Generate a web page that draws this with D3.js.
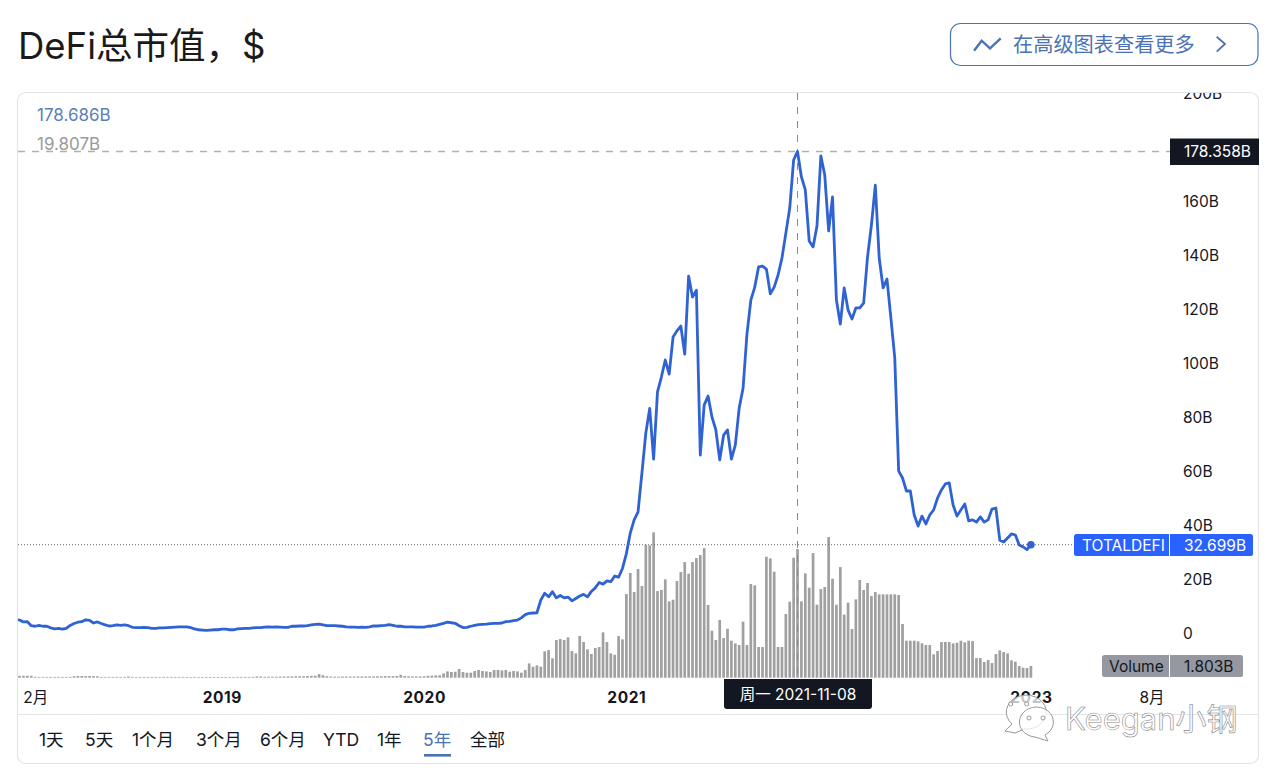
<!DOCTYPE html>
<html>
<head>
<meta charset="utf-8">
<style>
    html, body { margin: 0; background: #fff; }
    svg { display: block; }
    text { font-family: Inter, "Noto Sans CJK SC", sans-serif; fill: #131722; }
    .axis path, .axis line { display: none; }
    .axis text { font-size: 15.5px; }
</style>
<script src="https://cdn.jsdelivr.net/npm/d3@7"></script>
</head>
<body>
<svg id="chart" width="1280" height="779"></svg>
<script>
(function(){
    'use strict';

    // weekly closes, billions, one value per monday from 2018-01-01
    var closes = [
        5.0,4.8,4.1,4.2,2.7,2.5,2.8,2.5,2.5,1.9,
        1.5,1.7,1.4,1.7,2.8,3.5,4.0,4.2,4.9,4.7,
        3.7,4.1,3.5,3.0,2.6,2.7,3.0,2.8,3.0,2.7,
        2.1,2.0,2.0,2.1,2.0,1.7,1.7,1.9,1.9,2.0,
        2.1,2.2,2.3,2.3,2.3,2.0,1.5,1.2,1.1,1.0,
        1.1,1.2,1.2,1.4,1.4,1.2,1.2,1.5,1.6,1.7,
        1.7,1.9,2.0,2.0,2.2,2.3,2.2,2.3,2.2,2.1,
        2.1,2.5,2.5,2.6,2.6,2.7,3.0,3.2,3.3,3.0,
        2.7,2.7,2.7,2.6,2.5,2.3,2.2,2.2,2.1,2.2,
        2.1,2.3,2.6,2.6,2.7,2.8,3.1,2.8,2.5,2.5,
        2.3,2.3,2.3,2.2,2.2,2.2,2.5,2.6,2.8,3.2,
        3.6,4.0,3.8,3.6,2.7,2.0,2.1,2.5,2.8,3.1,
        3.2,3.3,3.5,3.6,3.6,3.7,4.2,4.3,4.6,4.8,
        5.6,6.8,7.3,7.4,7.5,12.2,14.7,13.4,15.3,13.0,
        13.9,13.0,13.3,11.9,12.8,13.7,14.3,13.4,15.4,16.7,
        18.7,18.1,19.3,19.0,21.1,20.7,23.9,29.4,37.0,41.9,
        44.9,59.3,74.1,83.2,64.4,89.3,94.8,101.1,95.9,109.6,
        111.9,113.7,103.3,132.2,124.4,127.0,65.9,84.4,87.8,80.0,
        75.2,64.1,73.3,75.2,64.4,69.6,83.3,90.7,110.7,123.3,
        128.1,135.6,135.9,134.8,125.6,128.1,132.6,138.9,148.1,157.4,
        175.2,178.358,168.9,164.1,145.2,143.0,150.7,176.7,169.6,148.9,
        161.5,123.3,114.4,127.8,119.6,116.3,120.4,120.4,122.2,139.3,
        151.1,165.9,138.9,127.8,131.1,116.7,101.9,60.0,57.4,52.6,
        52.6,43.7,39.6,43.3,40.4,43.7,45.6,50.0,53.0,55.2,
        55.6,47.4,43.3,45.6,47.8,41.5,41.9,41.1,43.0,41.1,
        41.9,45.9,46.3,34.4,33.7,35.2,36.7,36.3,32.6,31.9,
        30.9,32.699
    ];

    var volumes = [
        .3,.3,.3,.3,.3,.14,.12,.12,.12,.12,
        .12,.12,.12,.12,.14,.22,.26,.26,.24,.26,
        .24,.22,.12,.12,.12,.12,.12,.12,.12,.18,
        .12,.11,.12,.12,.11,.12,.12,.11,.12,.12,
        .12,.11,.11,.12,.11,.11,.12,.11,.11,.12,
        .11,.11,.12,.11,.12,.12,.11,.12,.12,.12,
        .12,.13,.2,.18,.14,.15,.16,.16,.18,.18,
        .2,.2,.22,.22,.24,.26,.28,.3,.55,.38,
        .22,.18,.16,.16,.18,.18,.18,.18,.2,.2,
        .2,.2,.2,.22,.22,.24,.24,.24,.26,.45,
        .25,.22,.2,.2,.2,.22,.3,.32,.36,.36,
        .66,.97,.88,.92,1.34,.88,.77,.77,1.03,1.19,
        1.03,.97,.88,1.19,1.19,1.12,1.19,.92,1.03,.97,
        .77,1.18,2.21,1.69,1.90,1.69,4.06,4.26,2.98,5.80,
        5.96,5.80,6.21,4.11,3.75,6.42,5.50,4.37,3.65,4.57,
        4.73,6.99,5.50,3.75,3.54,6.42,5.91,12.89,16.13,13.20,
        16.74,14.12,20.49,20.39,22.39,13.35,13.51,15.15,11.76,12.02,
        14.89,16.28,17.82,16.02,17.82,18.44,18.90,19.98,11.20,7.24,
        5.80,8.89,6.11,7.55,5.70,5.29,5.03,8.63,5.03,14.43,
        14.23,4.73,4.73,18.64,18.39,16.33,4.73,4.73,9.81,11.71,
        18.49,19.807,11.76,16.08,13.87,19.21,11.25,13.66,13.97,21.67,
        15.25,11.25,17.05,9.71,11.56,7.50,12.07,15.05,13.51,14.59,
        12.58,13.20,12.84,12.84,12.84,12.84,12.84,12.74,8.27,5.70,
        5.70,5.70,5.60,5.29,5.03,5.03,3.60,4.11,5.50,5.50,
        5.50,5.29,5.39,5.70,5.44,5.70,5.65,3.03,3.03,2.41,
        2.72,2.26,3.65,4.21,3.95,3.75,2.67,2.47,1.80,1.54,
        1.49,1.803
    ];

    var mondays = d3.utcMonday.range(new Date(Date.UTC(2018,0,1)), new Date(Date.UTC(2023,0,3)));
    var data = mondays.map(function(d,i){
        return {date: d, close: closes[i], volume: volumes[i]};
    });

    var blue = '#2f62d2';
    var muted = '#4a72b4';
    var dark = '#131722';
    var svg = d3.select('#chart');

    var x = d3.scaleUtc()
        .domain([new Date(Date.UTC(2018,0,1)), new Date(Date.UTC(2023,0,2))])
        .range([15.7, 1030.9]);
    var y = d3.scaleLinear().domain([0,200]).range([633,93]);
    var yVol = d3.scaleLinear().domain([0,22.39]).range([677.7,532.4]);

    svg.append('text').attr('x',18).attr('y',59)
        .style('font-size','36.5px').style('fill','#1a1a1a')
        .text('DeFi总市值，$');

    // link button on the top right
    svg.append('rect').attr('x',950.5).attr('y',23.5).attr('width',307.5).attr('height',42)
        .attr('rx',10).attr('fill','none').attr('stroke',muted).attr('stroke-width',1.2);
    svg.append('polyline').attr('points','974,50.7 981.7,40.7 990,48.3 1000.7,38.3')
        .attr('fill','none').attr('stroke',muted).attr('stroke-width',2.4);
    svg.append('text').attr('x',1013).attr('y',52)
        .style('font-size','20.2px').style('fill',muted).text('在高级图表查看更多');
    svg.append('polyline').attr('points','1216.7,36.7 1225,44 1216.7,51.7')
        .attr('fill','none').attr('stroke',muted).attr('stroke-width',1.8);

    // card
    svg.append('rect').attr('x',17.5).attr('y',92.5).attr('width',1241).attr('height',671)
        .attr('rx',8).attr('fill','#fff').attr('stroke','#e2e4ea').attr('stroke-width',1.2);
    svg.append('line').attr('x1',18).attr('x2',1258).attr('y1',714.5).attr('y2',714.5)
        .attr('stroke','#e2e4ea');

    svg.append('clipPath').attr('id','plot').append('rect')
        .attr('x',18).attr('y',93).attr('width',1240).attr('height',620);

    var plot = svg.append('g').attr('clip-path','url(#plot)');

    plot.selectAll('.bar').data(data).enter().append('rect')
        .attr('class','bar')
        .attr('x',function(d){ return x(d.date)-1.35; })
        .attr('width',2.7)
        .attr('y',function(d){ return yVol(d.volume); })
        .attr('height',function(d){ return yVol(0)-yVol(d.volume); })
        .attr('fill','#a0a0a0');

    // last price line
    plot.append('line').attr('x1',18).attr('x2',1074)
        .attr('y1',y(32.699)).attr('y2',y(32.699))
        .attr('stroke','#666').attr('stroke-dasharray','1 2');

    // crosshair
    plot.append('line').attr('x1',18).attr('x2',1170)
        .attr('y1',y(178.358)).attr('y2',y(178.358))
        .attr('stroke','#b0b0b0').attr('stroke-width',1.4).attr('stroke-dasharray','7 7');
    plot.append('line').attr('x1',x(mondays[201])).attr('x2',x(mondays[201]))
        .attr('y1',93).attr('y2',678)
        .attr('stroke','#8a8a8a').attr('stroke-dasharray','7 7');

    var line = d3.line()
        .x(function(d){ return x(d.date); })
        .y(function(d){ return y(d.close); });
    plot.append('path').datum(data)
        .attr('d',line)
        .attr('fill','none')
        .attr('stroke',blue)
        .attr('stroke-width',2.8)
        .attr('stroke-linejoin','round');
    plot.append('circle').attr('cx',x(mondays[261])).attr('cy',y(32.699)).attr('r',3.8)
        .attr('fill',blue);

    // 180B sits behind the crosshair tag, so it is left out
    plot.append('g').attr('class','axis')
        .attr('transform','translate(1170,1)')
        .call(d3.axisRight(y).tickValues([0,20,40,60,80,100,120,140,160,200]).tickSize(0).tickPadding(13)
            .tickFormat(function(d){ return d===0 ? '0' : d+'B'; }));

    // the 2022 label is covered by the date label, so it is left out
    var yearTicks = [new Date(Date.UTC(2019,0,7)), new Date(Date.UTC(2020,0,6)),
        new Date(Date.UTC(2021,0,4)), new Date(Date.UTC(2023,0,2))];
    var monthTicks = [new Date(Date.UTC(2018,1,5)), new Date(Date.UTC(2023,7,7))];
    var xAxis = svg.append('g').attr('class','axis')
        .attr('transform','translate(0,693)')
        .call(d3.axisBottom(x).tickValues(monthTicks.concat(yearTicks)).tickSize(0).tickPadding(0)
            .tickFormat(function(d){
                return d.getUTCMonth()===0 ? d.getUTCFullYear() : (d.getUTCMonth()+1)+'月';
            }));
    xAxis.selectAll('text')
        .attr('dy','10')
        .style('font-weight',function(d){ return d.getUTCMonth()===0 ? 700 : 400; })
        .style('letter-spacing',function(d){ return d.getUTCMonth()===0 ? '0.6px' : null; });

    // legend values
    svg.append('text').attr('x',37).attr('y',121).style('font-size','17px').style('fill','#5a7fb8').text('178.686B');
    svg.append('text').attr('x',37).attr('y',150).style('font-size','17px').style('fill','#9a9a9a').text('19.807B');

    // price scale tags
    function tag(x0,x1,top,bottom,fill,textFill,labels){
        svg.append('rect').attr('x',x0).attr('y',top).attr('width',x1-x0).attr('height',bottom-top)
            .attr('rx',labels.length>1 ? 2.5 : 0).attr('fill',fill);
        labels.forEach(function(l){
            svg.append('text').attr('x',l[0]).attr('y',(top+bottom)/2+5.5)
                .style('font-size','15.5px').style('fill',textFill).text(l[1]);
        });
        if(labels.length>1){
            svg.append('line').attr('x1',1169.5).attr('x2',1169.5).attr('y1',top).attr('y2',bottom)
                .attr('stroke','#fff');
        }
    }
    tag(1170,1259,138.5,165,dark,'#fff',[[1184,'178.358B']]);
    tag(1074,1253,534,556,'#2962ff','#fff',[[1082,'TOTALDEFI'],[1184,'32.699B']]);
    tag(1102,1243,655,677,'#9598a1',dark,[[1109,'Volume'],[1184,'1.803B']]);

    // date label under the crosshair
    svg.append('path')
        .attr('d','M724,679H872V706a3,3 0 0 1 -3,3H727a3,3 0 0 1 -3,-3Z')
        .attr('fill',dark);
    svg.append('text').attr('x',798).attr('y',700).attr('text-anchor','middle')
        .style('font-size','15.5px').style('fill','#fff').text('周一 2021-11-08');

    // range buttons
    var ranges = [
        {t:'1天',x:39}, {t:'5天',x:85}, {t:'1个月',x:132}, {t:'3个月',x:196}, {t:'6个月',x:260},
        {t:'YTD',x:323}, {t:'1年',x:377}, {t:'5年',x:423,on:true}, {t:'全部',x:470}
    ];
    svg.selectAll('.range').data(ranges).enter().append('text')
        .attr('class','range')
        .attr('x',function(d){ return d.x; })
        .attr('y',746)
        .style('font-size','17.5px')
        .style('fill',function(d){ return d.on ? muted : dark; })
        .text(function(d){ return d.t; });
    svg.append('rect').attr('x',424).attr('y',754).attr('width',27).attr('height',2.6).attr('fill',muted);

    // wechat watermark
    var mark = svg.append('g').attr('fill','rgba(255,255,255,0.75)').attr('stroke','#999').attr('stroke-width',1);
    mark.append('path').attr('d','M1005,731L1012,724A20,17 0 1 1 1024,729L1015,733Z');
    mark.append('path').attr('d','M1048,741L1045,735A17,15 0 1 0 1035,737Z');
    [[1010.7,704],[1026.7,704],[1029,718],[1043,718]].forEach(function(p){
        mark.append('circle').attr('cx',p[0]).attr('cy',p[1]).attr('r',2);
    });
    svg.append('text').attr('x',1065).attr('y',730)
        .style('font-size','31px').style('fill','#fff').style('stroke','#888').style('stroke-width',0.6)
        .text('Keegan小钢');
})();
</script>
</body>
</html>
